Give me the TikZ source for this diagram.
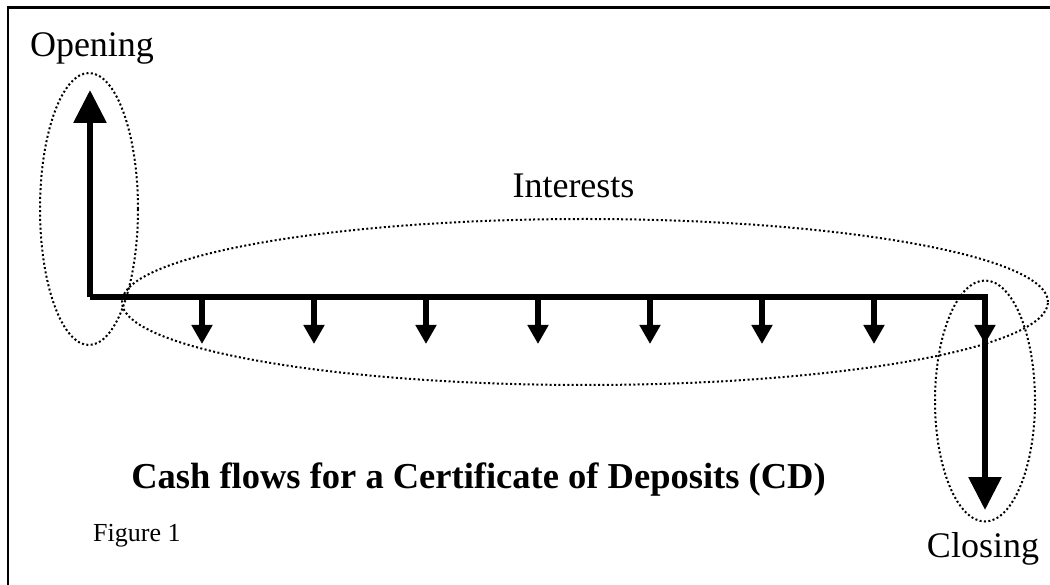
\documentclass[tikz,border=0pt]{standalone}
\usepackage{fontspec}
\setmainfont{Liberation Serif}
\usetikzlibrary{arrows.meta,shapes.geometric}
\begin{document}
\begin{tikzpicture}[x=1pt, y=-1pt,
        flow/.style={line width=6pt, line join=miter},
        bigtip/.style={-{Triangle[length=33pt, width=32pt]}},
        smalltip/.style={-{Triangle[length=19pt, width=20pt]}},
        group/.style={draw, ellipse, inner sep=0pt, line width=2pt, dash pattern=on 2pt off 2.4pt},
        lbl/.style={anchor=base, inner sep=0pt, font=\fontsize{36}{40}\selectfont}]
        \useasboundingbox (0, 0) rectangle (1050, 585);
        \draw [line width=2.5pt] (8, 590) -- (8, 7.5) -- (1060, 7.5);
        \node (0) at (90, 297) {};
        \node (1) at (90, 90) {};
        \node (2) at (985, 297) {};
        \node (3) at (985, 510) {};
        \node (4) at (202, 297) {};
        \node (5) at (202, 344) {};
        \node (6) at (314, 297) {};
        \node (7) at (314, 344) {};
        \node (8) at (426, 297) {};
        \node (9) at (426, 344) {};
        \node (10) at (538, 297) {};
        \node (11) at (538, 344) {};
        \node (12) at (650, 297) {};
        \node (13) at (650, 344) {};
        \node (14) at (762, 297) {};
        \node (15) at (762, 344) {};
        \node (16) at (874, 297) {};
        \node (17) at (874, 344) {};
        \node (18) at (985, 297) {};
        \node (19) at (985, 344) {};
        \node [group, minimum width=98pt, minimum height=272pt] (20) at (89, 209) {};
        \node [group, minimum width=926pt, minimum height=166pt] (21) at (585, 302) {};
        \node [group, minimum width=100pt, minimum height=241pt] (22) at (985, 401) {};
        \node [lbl] (23) at (92, 57) {Opening};
        \node [lbl] (24) at (573.5, 198) {Interests};
        \node [lbl] (25) at (983, 557) {Closing};
        \node [lbl, font=\fontsize{36.5}{40}\selectfont\bfseries] (26) at (478.5, 488) {Cash flows for a Certificate of Deposits (CD)};
        \node [anchor=base west, inner sep=0pt, font=\fontsize{26}{30}\selectfont] (27) at (93, 541) {Figure 1};
        \draw [flow, bigtip] (0.center) to (1.center);
        \draw [flow, bigtip] (0.center) -- (2.center) -- (3.center);
        \draw [flow, smalltip] (4.center) to (5.center);
        \draw [flow, smalltip] (6.center) to (7.center);
        \draw [flow, smalltip] (8.center) to (9.center);
        \draw [flow, smalltip] (10.center) to (11.center);
        \draw [flow, smalltip] (12.center) to (13.center);
        \draw [flow, smalltip] (14.center) to (15.center);
        \draw [flow, smalltip] (16.center) to (17.center);
        \draw [flow, smalltip] (18.center) to (19.center);
    \end{tikzpicture}
\end{document}
